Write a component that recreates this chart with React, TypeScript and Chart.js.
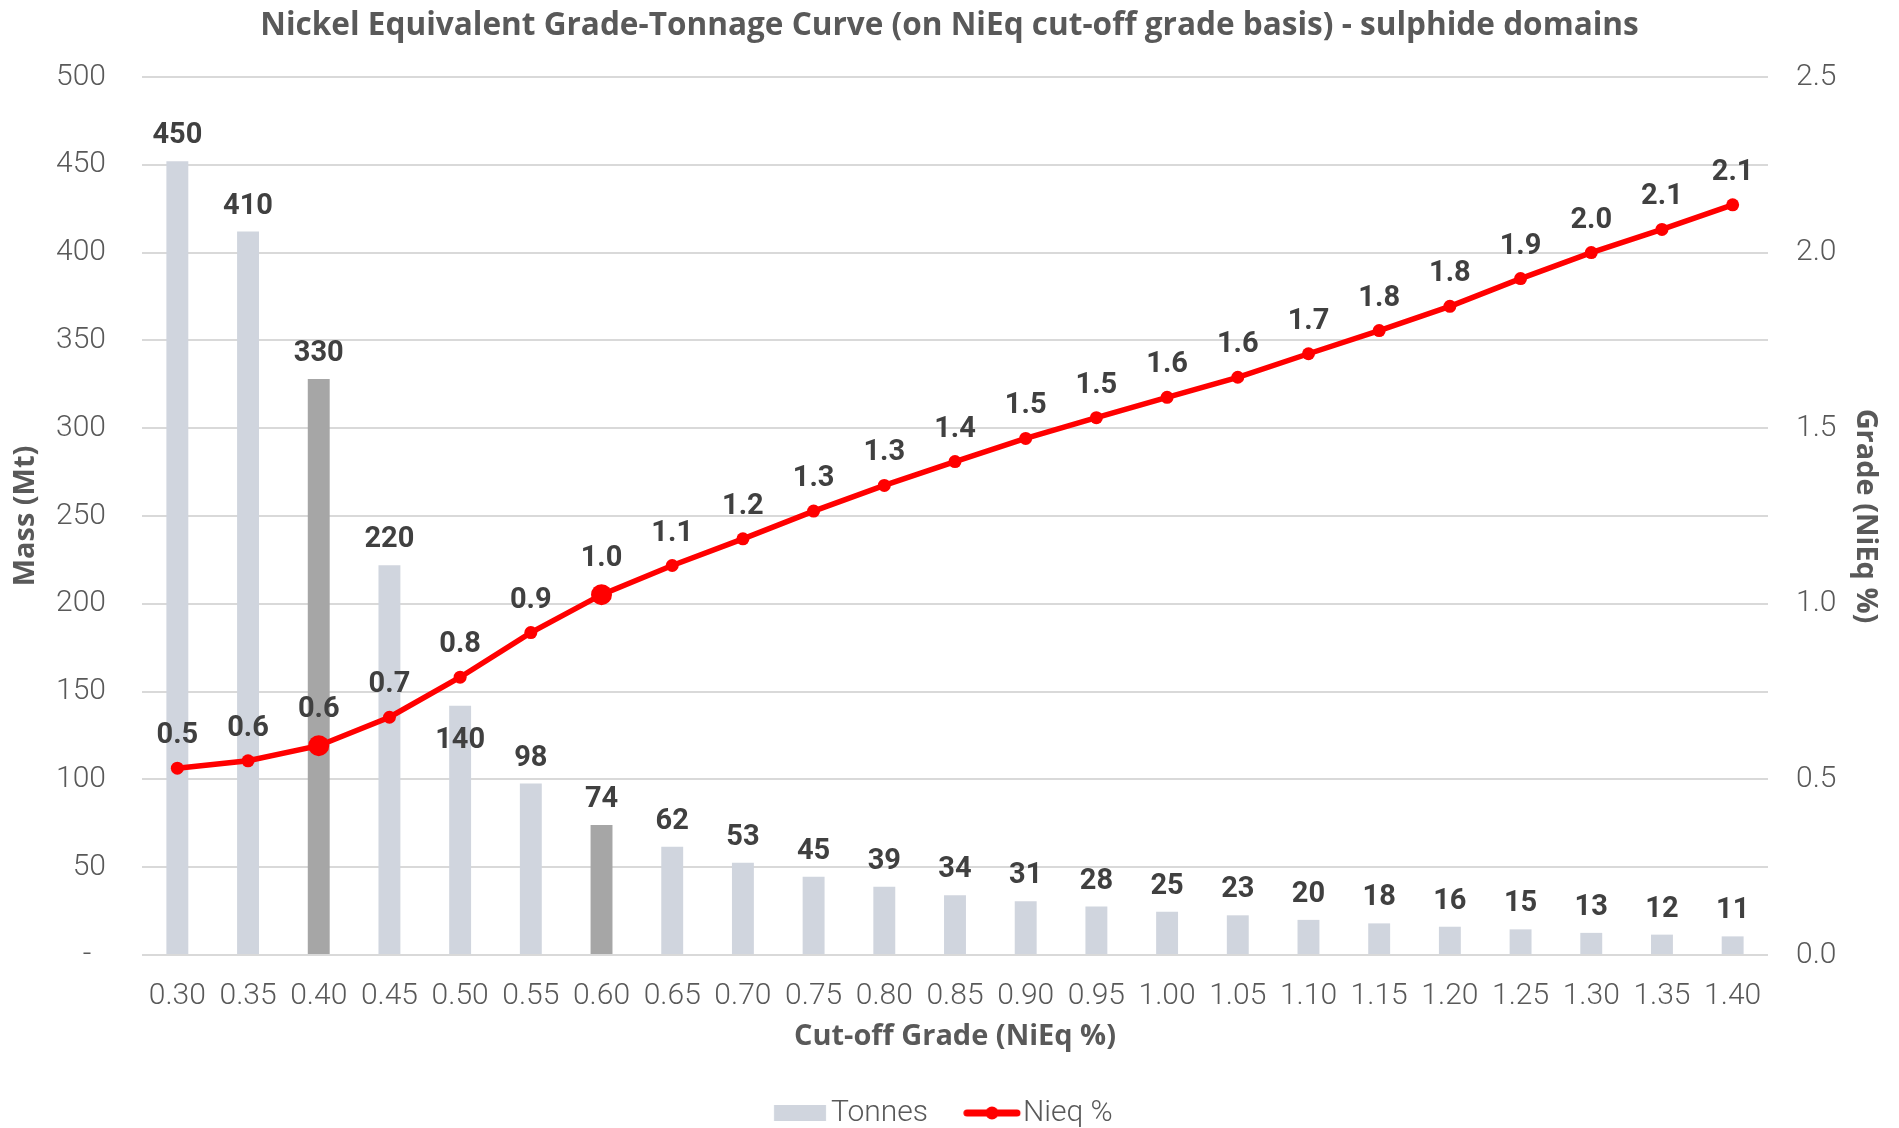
import React, { useEffect, useRef } from 'react';
import { Chart, registerables } from 'chart.js';

Chart.register(...registerables);

// ---------- data ----------
const cutoffGrades = ['0.30', '0.35', '0.40', '0.45', '0.50', '0.55', '0.60', '0.65', '0.70', '0.75', '0.80', '0.85',
  '0.90', '0.95', '1.00', '1.05', '1.10', '1.15', '1.20', '1.25', '1.30', '1.35', '1.40'];
const tonnesMt = [452, 412, 328, 222, 142, 97.6, 74, 61.6, 52.6, 44.6, 38.8, 34, 30.6, 27.6, 24.6, 22.6, 20, 18, 16.1,
  14.6, 12.6, 11.6, 10.6];
const nieqGrade = [0.532, 0.553, 0.596, 0.677, 0.791, 0.918, 1.026, 1.109, 1.185, 1.264, 1.337, 1.405, 1.471, 1.53,
  1.588, 1.645, 1.712, 1.778, 1.847, 1.926, 2.0, 2.066, 2.136];
const highlightedGrades = ['0.40', '0.60'];
const massTicks = [0, 50, 100, 150, 200, 250, 300, 350, 400, 450, 500];
const gradeTicks = [0, 0.5, 1.0, 1.5, 2.0, 2.5];

const TITLE = 'Nickel Equivalent Grade-Tonnage Curve (on NiEq cut-off grade basis) - sulphide domains';
const X_TITLE = 'Cut-off Grade (NiEq %)';

// ---------- styles ----------
const FONT = 'Roboto';
const HEAD_FONT = '"Open Sans"';
const TONNES_COLOR = '#D0D5DE';
const HIGHLIGHT_COLOR = '#A6A6A6';
const LINE_COLOR = '#FF0000';
const AXIS_TEXT = '#595959';
const LABEL_TEXT = '#404040';
const GRID_COLOR = '#D9D9D9';
const W = 1899;
const H = 1128;

function makeImage(left: number, right: number, height: number,
  draw: (ctx: CanvasRenderingContext2D, x0: number, x1: number, cy: number) => void) {
  const half = Math.ceil(Math.max(Math.abs(left), Math.abs(right)));
  const c = document.createElement('canvas');
  c.width = half * 2;
  c.height = height;
  const ctx = c.getContext('2d')!;
  draw(ctx, half + left, half + right, height / 2);
  return c;
}

export default function App() {
  const ref = useRef<HTMLCanvasElement>(null);

  useEffect(() => {
    const canvas = ref.current!;
    const m = document.createElement('canvas').getContext('2d')!;
    const measure = (font: string, text: string) => { m.font = font; return m.measureText(text).width; };

    const w1 = measure(`300 30px ${FONT}`, 'Tonnes');
    const w2 = measure(`300 30px ${FONT}`, 'Nieq %');
    const T1 = 831;
    const T2 = 1023;
    const legendPad = Math.max(4, W - 2 * T1 - w1 - w2);
    const boxW = Math.max(8, (T2 - T1) - w1 - legendPad - 15);
    const legendTop = 1098 - legendPad;
    const plotTop = 77;
    const plotBottom = 955;

    // fit heading fonts to the reference's text widths
    const titleSize = Math.min(34, 30 * 1379 / measure(`bold 30px ${HEAD_FONT}`, TITLE));
    const titleLH = titleSize * 1.2;
    const titlePadTop = 26.5 - titleLH / 2;
    const axisTitleSize = Math.min(32, 28 * 322 / measure(`bold 28px ${HEAD_FONT}`, X_TITLE));
    const axisTitleLH = axisTitleSize * 1.2;

    const img1 = makeImage(boxW / 2 - 42, boxW / 2 + 10, 16, (ctx, x0, x1) => {
      ctx.fillStyle = TONNES_COLOR;
      ctx.fillRect(x0, 0, x1 - x0, 16);
    });
    const img2 = makeImage(boxW / 2 - 44, boxW / 2 + 12, 16, (ctx, x0, x1, cy) => {
      ctx.strokeStyle = LINE_COLOR;
      ctx.lineWidth = 7;
      ctx.lineCap = 'round';
      ctx.beginPath();
      ctx.moveTo(x0 + 3, cy);
      ctx.lineTo(x1 - 3, cy);
      ctx.stroke();
      ctx.fillStyle = LINE_COLOR;
      ctx.beginPath();
      ctx.arc((x0 + x1) / 2, cy, 6.5, 0, Math.PI * 2);
      ctx.fill();
    });
    const legendImages = [img1, img2];

    const valueLabels = {
      id: 'valueLabels',
      afterDatasetsDraw(chart: any) {
        const ctx = chart.ctx as CanvasRenderingContext2D;
        ctx.save();
        ctx.font = `bold 29px ${FONT}`;
        ctx.fillStyle = LABEL_TEXT;
        ctx.textAlign = 'center';
        ctx.textBaseline = 'alphabetic';
        const bars = chart.getDatasetMeta(0).data;
        bars.forEach((el: any, i: number) => {
          const text = String(Number(tonnesMt[i].toPrecision(2)));
          // the 0.50 label sits inside its bar, below the curve, as in the reference
          const y = i === 4 ? el.y + 42 : el.y - 18;
          ctx.fillText(text, el.x, y);
        });
        const pts = chart.getDatasetMeta(1).data;
        pts.forEach((el: any, i: number) => {
          const big = highlightedGrades.includes(cutoffGrades[i]);
          ctx.fillText(nieqGrade[i].toFixed(1), el.x, el.y - (big ? 29 : 25));
        });
        ctx.restore();
      },
    };

    const tickFont = { family: FONT, size: 30, weight: 300 as any };
    const axisTitleFont = { family: HEAD_FONT, size: axisTitleSize, weight: 'bold' as any };

    const chart = new Chart(canvas, {
      data: {
        labels: cutoffGrades,
        datasets: [
          {
            type: 'bar',
            label: 'Tonnes',
            data: tonnesMt,
            yAxisID: 'y',
            backgroundColor: cutoffGrades.map((g) => (highlightedGrades.includes(g) ? HIGHLIGHT_COLOR : TONNES_COLOR)),
            borderWidth: 0,
            barPercentage: 0.31,
            categoryPercentage: 1,
            order: 1,
          },
          {
            type: 'line',
            label: 'Nieq %',
            data: nieqGrade,
            yAxisID: 'y1',
            borderColor: LINE_COLOR,
            backgroundColor: LINE_COLOR,
            borderWidth: 5.5,
            tension: 0,
            pointRadius: cutoffGrades.map((g) => (highlightedGrades.includes(g) ? 10.5 : 6.5)),
            pointBackgroundColor: LINE_COLOR,
            pointBorderWidth: 0,
            order: 0,
          },
        ] as any,
      },
      options: {
        responsive: false,
        maintainAspectRatio: false,
        animation: false,
        events: [],
        layout: { padding: 0 },
        plugins: {
          title: {
            display: true,
            text: TITLE,
            color: AXIS_TEXT,
            font: { family: HEAD_FONT, size: titleSize, weight: 'bold' as any },
            padding: { top: titlePadTop, bottom: plotTop - titlePadTop - titleLH },
          },
          legend: {
            display: true,
            position: 'bottom',
            maxHeight: 30 + legendPad,
            labels: {
              usePointStyle: true,
              pointStyleWidth: boxW,
              padding: legendPad,
              color: AXIS_TEXT,
              font: tickFont,
              sort: (a: any, b: any) => a.datasetIndex - b.datasetIndex,
              generateLabels: (ch: any) => {
                const items = (Chart.defaults.plugins.legend.labels as any).generateLabels(ch);
                return items.map((it: any) => ({ ...it, pointStyle: legendImages[it.datasetIndex] }));
              },
            },
          },
          tooltip: { enabled: false },
        },
        scales: {
          x: {
            type: 'category',
            offset: true,
            grid: { display: false, drawTicks: false },
            border: { display: false },
            ticks: { font: tickFont, color: AXIS_TEXT, padding: 23, autoSkip: false, maxRotation: 0, minRotation: 0 },
            title: {
              display: true,
              text: X_TITLE,
              color: AXIS_TEXT,
              font: axisTitleFont,
              padding: { top: 0, bottom: legendTop - axisTitleLH / 2 - 1037 },
            },
            afterFit: (s: any) => { s.height = legendTop - plotBottom; },
          },
          y: {
            type: 'linear',
            position: 'left',
            min: 0,
            max: 500,
            afterBuildTicks: (s: any) => { s.ticks = massTicks.map((v) => ({ value: v })); },
            grid: { color: GRID_COLOR, lineWidth: 2, drawTicks: false },
            border: { display: false },
            ticks: {
              font: tickFont,
              color: AXIS_TEXT,
              padding: 36,
              callback: (v: any) => (Number(v) === 0 ? '-  ' : String(v)),
            },
            title: {
              display: true,
              text: 'Mass (Mt)',
              color: AXIS_TEXT,
              font: axisTitleFont,
              padding: { top: 25.5 - axisTitleLH / 2, bottom: 0 },
            },
            afterFit: (s: any) => { s.width = 142; },
          },
          y1: {
            type: 'linear',
            position: 'right',
            min: 0,
            max: 2.5,
            afterBuildTicks: (s: any) => { s.ticks = gradeTicks.map((v) => ({ value: v })); },
            grid: { display: false, drawTicks: false },
            border: { display: false },
            ticks: {
              font: tickFont,
              color: AXIS_TEXT,
              padding: 28,
              callback: (v: any) => Number(v).toFixed(1),
            },
            title: {
              display: true,
              text: 'Grade (NiEq %)',
              color: AXIS_TEXT,
              font: axisTitleFont,
              padding: { top: (W - 1865) - axisTitleLH / 2, bottom: 0 },
            },
            afterFit: (s: any) => { s.width = W - 1768; },
          },
        },
      } as any,
      plugins: [valueLabels],
    });

    return () => chart.destroy();
  }, []);

  return (
    <div style={{ position: 'fixed', left: 0, top: 0, width: W, height: H, background: '#fff' }}>
      <canvas ref={ref} width={W} height={H} style={{ display: 'block', width: W, height: H }} />
    </div>
  );
}
